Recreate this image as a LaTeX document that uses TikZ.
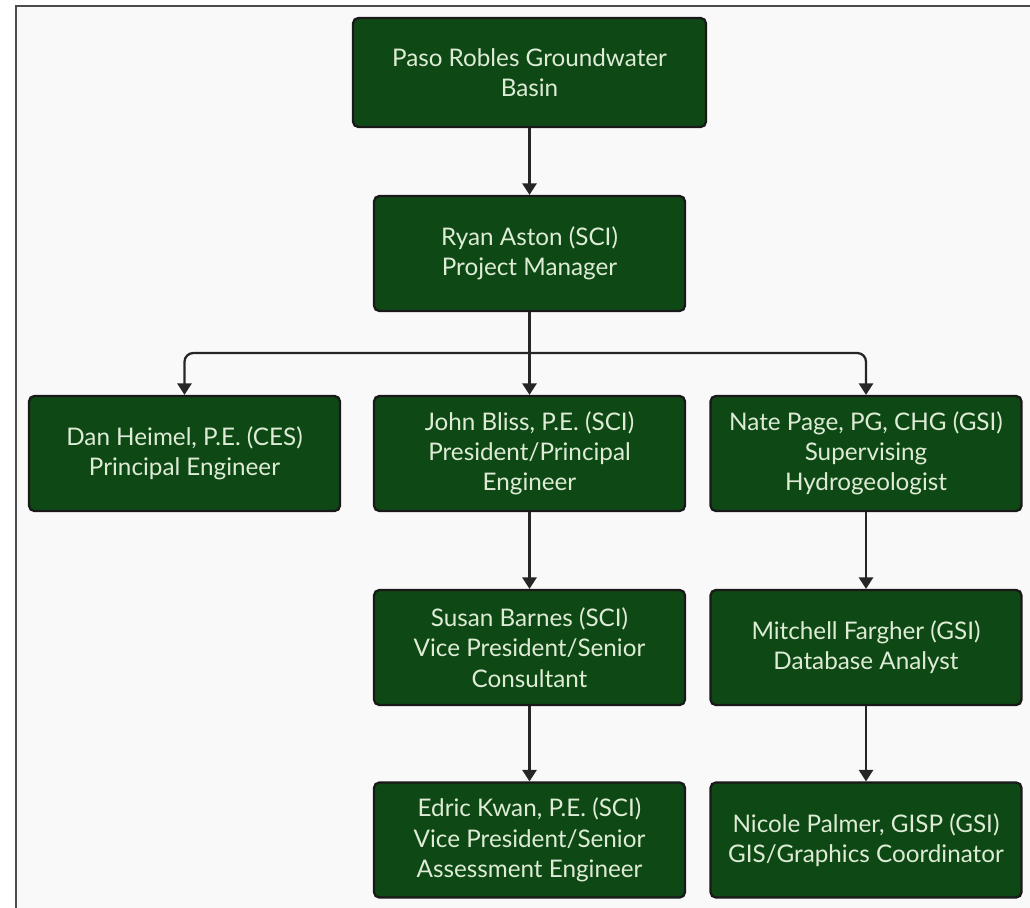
\documentclass[tikz,border=0pt]{standalone}
\usepackage{fontspec}
\setmainfont{Lato}
\usepackage{tikz}
\usetikzlibrary{arrows,arrows.meta,positioning,shapes}
\definecolor{boxgreen}{RGB}{14,72,20}
\definecolor{boxtext}{RGB}{222,236,214}
\definecolor{pagebg}{RGB}{249,249,249}

\begin{document}
\begin{tikzpicture}[x=0.02cm,y=-0.02cm,
  person/.style={draw=black!90,line width=1.3pt,fill=boxgreen,rounded corners=3pt,
    text=boxtext,align=center,minimum width=6.22cm,minimum height=2.3cm,
    font=\fontsize{13.8}{17.2}\selectfont,inner sep=2pt},
  arr/.style={draw=black!85,line width=1.3pt,-{Triangle[length=6.5pt,width=8pt]}}]
\useasboundingbox (0,0) rectangle (1030,907);
\clip (0,0) rectangle (1030,907);
\draw[fill=pagebg,draw=black!70,line width=1.4pt] (16,6) rectangle (1040,920);
% top of the tree
\node[person,minimum width=7.06cm,minimum height=2.18cm] (basin) at (529.5,72.5) {Paso Robles Groundwater\\Basin};
\node[person] (aston) at (529.5,253.5) {Ryan Aston (SCI)\\Project Manager};
% second row
\node[person] (heimel) at (184.5,453.5) {Dan Heimel, P.E. (CES)\\Principal Engineer};
\node[person] (bliss) at (529.5,453.5) {John Bliss, P.E. (SCI)\\President/Principal\\Engineer};
\node[person] (page) at (866,453.5) {Nate Page, PG, CHG (GSI)\\Supervising\\Hydrogeologist};
% third row
\node[person] (barnes) at (529.5,647.5) {Susan Barnes (SCI)\\Vice President/Senior\\Consultant};
\node[person] (fargher) at (866,647.5) {Mitchell Fargher (GSI)\\Database Analyst};
% bottom row
\node[person] (kwan) at (529.5,840) {Edric Kwan, P.E. (SCI)\\Vice President/Senior\\Assessment Engineer};
\node[person] (palmer) at (866,840) {Nicole Palmer, GISP (GSI)\\GIS/Graphics Coordinator};
\coordinate (split) at (529.5,353);
\draw[arr] (basin) -- (aston);
\draw[arr] (aston) -- (bliss);
\draw[arr,rounded corners=5pt] (split) -| (heimel);
\draw[arr,rounded corners=5pt] (split) -| (page);
\draw[arr] (bliss) -- (barnes);
\draw[arr] (barnes) -- (kwan);
\draw[arr] (page) -- (fargher);
\draw[arr] (fargher) -- (palmer);
\end{tikzpicture}
\end{document}
